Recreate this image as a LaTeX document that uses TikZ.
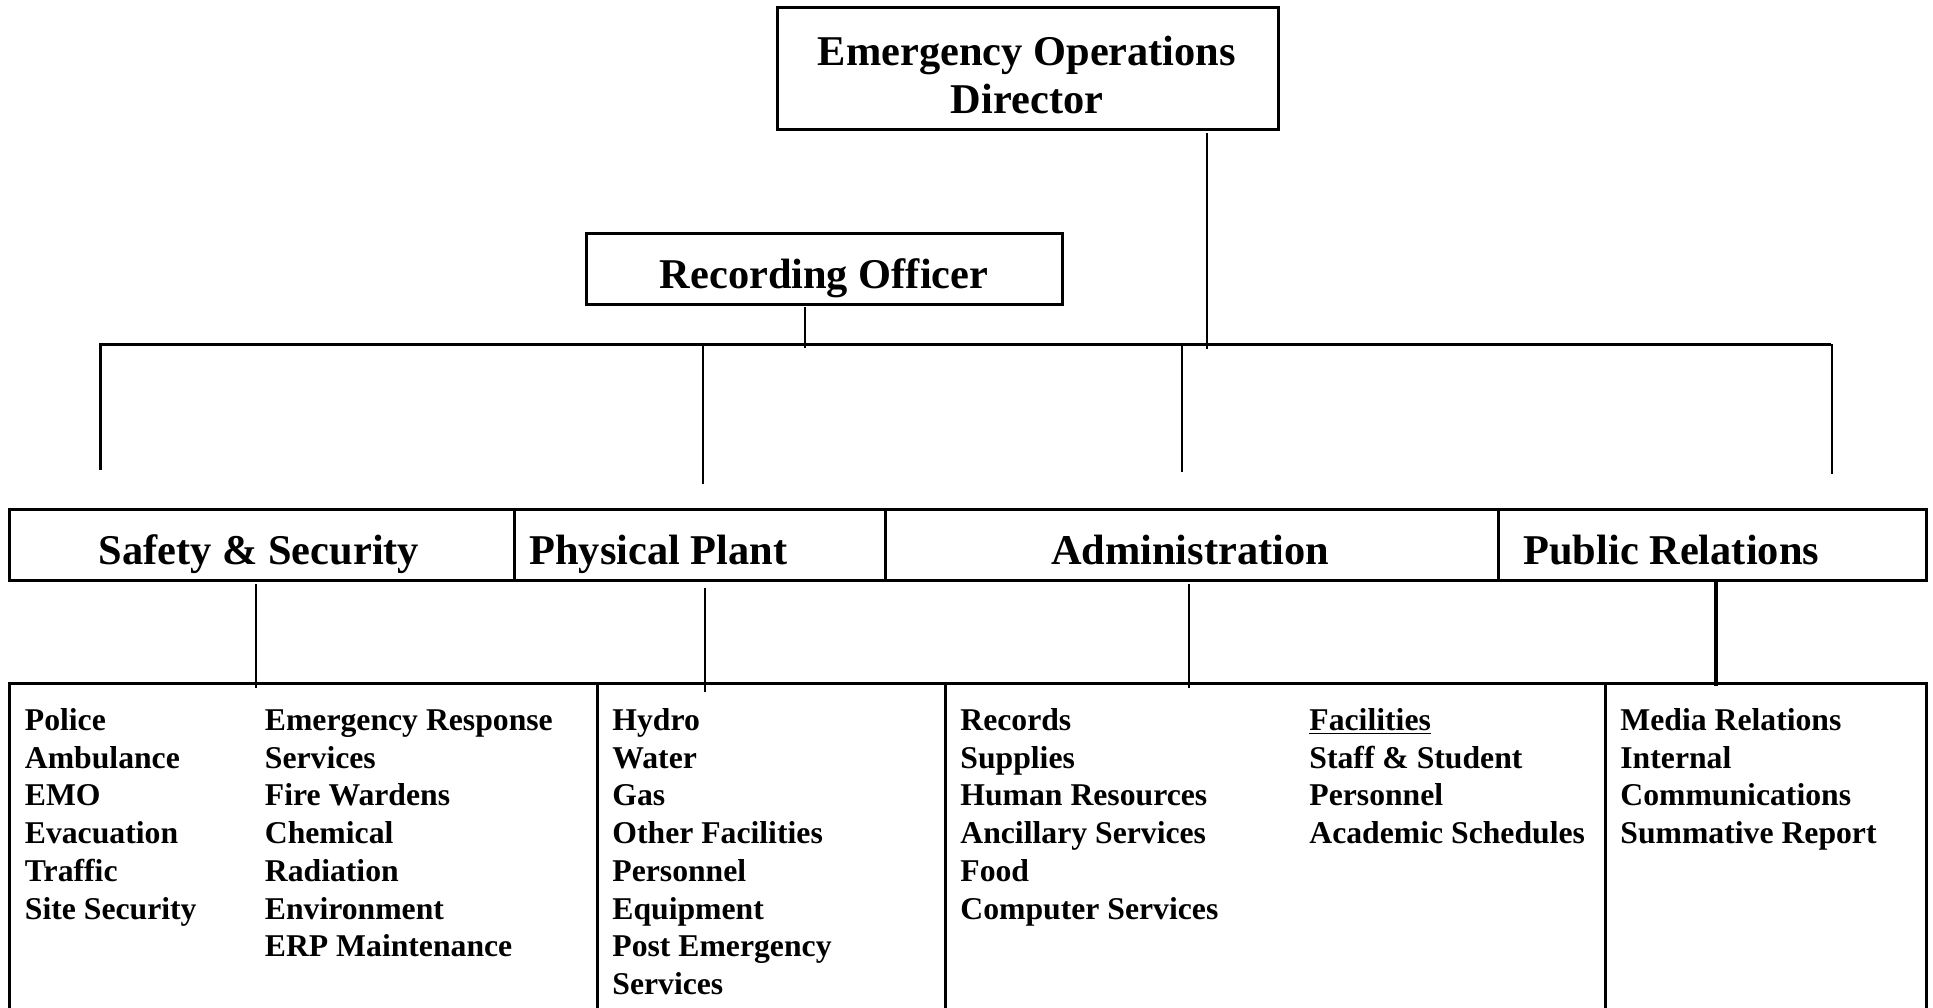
\documentclass[tikz,border=0pt]{standalone}
\usepackage{fontspec}
\setmainfont{Liberation Serif}[Ligatures={NoCommon}]
\usetikzlibrary{fit}
\begin{document}
\begin{tikzpicture}[x=0.5pt,y=-0.5pt,
  box/.style={draw, line width=1.5pt, inner sep=0pt},
  conn/.style={line width=1.2pt},
  thickconn/.style={line width=1.6pt},
  barline/.style={line width=1.5pt},
  title/.style={font=\fontsize{21.2}{24.3}\selectfont\bfseries, inner sep=0pt},
  items/.style={font=\fontsize{15.85}{18.85}\selectfont\bfseries, inner sep=0pt, anchor=base west}]
\clip (0,0) rectangle (1933,1007);

% top boxes
\node[box, fit={(777,7) (1278,129)}] (eod) {};
\node[title, anchor=base] (eodtxt) at (1027,65) {\begin{tabular}[t]{@{}c@{}}Emergency Operations\\Director\end{tabular}};
\node[box, fit={(586,233) (1062,304)}] (rec) {};
\node[title, anchor=base] (rectxt) at (824,288.5) {Recording Officer};

% department row
\node[box, fit={(9,509) (514,580)}] (safety) {};
\node[box, fit={(514,509) (885,580)}] (plant) {};
\node[box, fit={(885,509) (1498,580)}] (admin) {};
\node[box, fit={(1498,509) (1926,580)}] (pr) {};
\node[title, anchor=base] (safetytxt) at (259,564.5) {Safety \& Security};
\node[title, anchor=base west] (planttxt) at (529,564.5) {Physical Plant};
\node[title, anchor=base] (admintxt) at (1190,564.5) {Administration};
\node[title, anchor=base west] (prtxt) at (1523,564.5) {Public Relations};

% bottom row
\node[box, fit={(9,683) (597,1040)}] (bsafety) {};
\node[box, fit={(597,683) (945,1040)}] (bplant) {};
\node[box, fit={(945,683) (1605,1040)}] (badmin) {};
\node[box, fit={(1605,683) (1926,1040)}] (bpr) {};

\node[items] (c1) at (24.5,730.5) {\begin{tabular}[t]{@{}l@{}}Police\\Ambulance\\EMO\\Evacuation\\Traffic\\Site Security\end{tabular}};
\node[items] (c2) at (264.5,730.5) {\begin{tabular}[t]{@{}l@{}}Emergency Response\\Services\\Fire Wardens\\Chemical\\Radiation\\Environment\\ERP Maintenance\end{tabular}};
\node[items] (c3) at (612,730.5) {\begin{tabular}[t]{@{}l@{}}Hydro\\Water\\Gas\\Other Facilities\\Personnel\\Equipment\\Post Emergency\\Services\end{tabular}};
\node[items] (c4) at (960,730.5) {\begin{tabular}[t]{@{}l@{}}Records\\Supplies\\Human Resources\\Ancillary Services\\Food\\Computer Services\end{tabular}};
\node[items] (c5) at (1309,730.5) {\begin{tabular}[t]{@{}l@{}}\underline{Facilities}\\Staff \& Student\\Personnel\\Academic Schedules\end{tabular}};
\node[items] (c6) at (1620,730.5) {\begin{tabular}[t]{@{}l@{}}Media Relations\\Internal\\Communications\\Summative Report\end{tabular}};

% connector points
\coordinate (barL) at (100,344);
\coordinate (barR) at (1831,344);
\coordinate (eodA) at (1207,133);
\coordinate (eodB) at (1207,349);
\coordinate (recA) at (805,307);
\coordinate (recB) at (805,348);
\coordinate (d1) at (100,470);
\coordinate (d2a) at (703,344);
\coordinate (d2) at (703,484);
\coordinate (d3a) at (1182,344);
\coordinate (d3) at (1182,472);
\coordinate (d4a) at (1832,344);
\coordinate (d4) at (1832,474);
\coordinate (s1a) at (256,584);
\coordinate (s1b) at (256,688);
\coordinate (s2a) at (705,588);
\coordinate (s2b) at (705,692);
\coordinate (s3a) at (1189,584);
\coordinate (s3b) at (1189,688);
\coordinate (s4a) at (1716,582);
\coordinate (s4b) at (1716,686);

\draw[barline] (d1) -- (barL) -- (barR);
\draw[conn] (eodA) -- (eodB);
\draw[conn] (recA) -- (recB);
\draw[conn] (d2a) -- (d2);
\draw[conn] (d3a) -- (d3);
\draw[conn] (d4a) -- (d4);
\draw[conn] (s1a) -- (s1b);
\draw[conn] (s2a) -- (s2b);
\draw[conn] (s3a) -- (s3b);
\draw[thickconn] (s4a) -- (s4b);
\end{tikzpicture}
\end{document}
